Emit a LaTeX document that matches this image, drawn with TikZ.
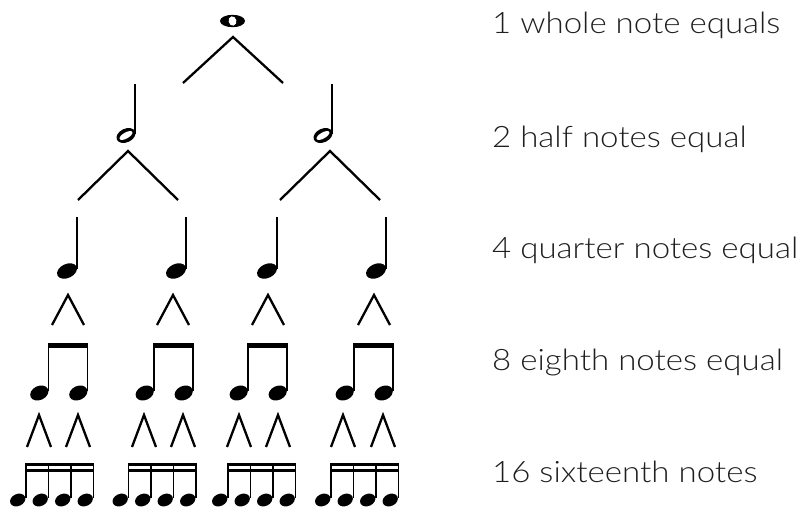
\documentclass[tikz,border=0pt]{standalone}
\usepackage{fontspec}
\newfontfamily\lblfont{Lato Light}[FakeStretch=1.12]
\tikzset{
  tree/.style={line width=2.3pt, line join=miter},
  stemline/.style={line width=1.4pt},
  beamfill/.style={fill=black},
  lbl/.style={anchor=base west, inner sep=0pt, font=\lblfont\fontsize{29.5}{34}\selectfont, text=black!88},
  wholenote/.pic={
    \fill (0,0) ellipse [x radius=12.5, y radius=6.2];
    \fill[white, rotate=12] (0,0) ellipse [x radius=3.9, y radius=4.7];
  },
  halfnote/.pic={
    \fill[rotate=25] (0,0) ellipse [x radius=10, y radius=6.8];
    \fill[white, rotate=30] (0,0) ellipse [x radius=7.2, y radius=3];
    \draw[stemline] (9,-2) -- (9,-52);
  },
  quarternote/.pic={
    \fill[rotate=25] (0,0) ellipse [x radius=10.5, y radius=7];
    \draw[stemline] (10,-2) -- (10,-54);
  },
  eighthpair/.pic={
    \foreach \i in {0,39} {
      \fill[shift={(\i,0)}, rotate=25] (0,0) ellipse [x radius=9.5, y radius=7];
      \draw[stemline] (\i+9.3,-2) -- (\i+9.3,-49);
    }
    \fill[beamfill] (8.6,-50) rectangle (49,-45);
  },
  sixteenthgroup/.pic={
    \foreach \i in {0,22.5,45,67.5} {
      \fill[shift={(\i,0)}, rotate=25] (0,0) ellipse [x radius=8, y radius=6];
      \draw[stemline] (\i+8.3,-2) -- (\i+8.3,-36);
    }
    \fill[beamfill] (7.6,-37) rectangle (76.5,-34);
    \fill[beamfill] (7.6,-31) rectangle (76.5,-28);
  }
}
\begin{document}
\begin{tikzpicture}[x=1pt,y=-1pt]
\path[use as bounding box] (0,0) rectangle (802,506);

% notes
\pic (whole) at (232.5,21) {wholenote};
\pic (halfL) at (126,135.5) {halfnote};
\pic (halfR) at (323,135.5) {halfnote};
\foreach \x [count=\k] in {67,176,267,376} {
  \pic (q\k) at (\x,271) {quarternote};
}
\foreach \x [count=\k] in {39.3,144.7,238.7,344.7} {
  \pic (e\k) at (\x,393) {eighthpair};
}
\foreach \x [count=\k] in {17.7,120.2,219.7,322.7} {
  \pic (s\k) at (\x,500) {sixteenthgroup};
}

% tree connectors
\coordinate (wA) at (233,37);  \coordinate (wL) at (183,83);  \coordinate (wR) at (283,83);
\coordinate (hLA) at (128,151); \coordinate (hLL) at (78,200); \coordinate (hLR) at (178,200);
\coordinate (hRA) at (330,151); \coordinate (hRL) at (280,200); \coordinate (hRR) at (380,200);
\draw[tree] (wL) -- (wA) -- (wR);
\draw[tree] (hLL) -- (hLA) -- (hLR);
\draw[tree] (hRL) -- (hRA) -- (hRR);

\foreach \x [count=\k] in {68,173,268,374} {
  \coordinate (qa\k) at (\x,295);
  \coordinate (ql\k) at (\x-16,325);
  \coordinate (qr\k) at (\x+16,325);
  \draw[tree] (ql\k) -- (qa\k) -- (qr\k);
}
\foreach \x [count=\k] in {39,78,144,183,239,278,343,383} {
  \coordinate (ea\k) at (\x,415);
  \coordinate (el\k) at (\x-12,447);
  \coordinate (er\k) at (\x+12,447);
  \draw[tree] (el\k) -- (ea\k) -- (er\k);
}

% labels
\node[lbl] (l1) at (492,33) {1 whole note equals};
\node[lbl] (l2) at (492,147) {2 half notes equal};
\node[lbl] (l3) at (492,258) {4 quarter notes equal};
\node[lbl] (l4) at (492,370) {8 eighth notes equal};
\node[lbl] (l5) at (492,482) {16 sixteenth notes};
\end{tikzpicture}
\end{document}
